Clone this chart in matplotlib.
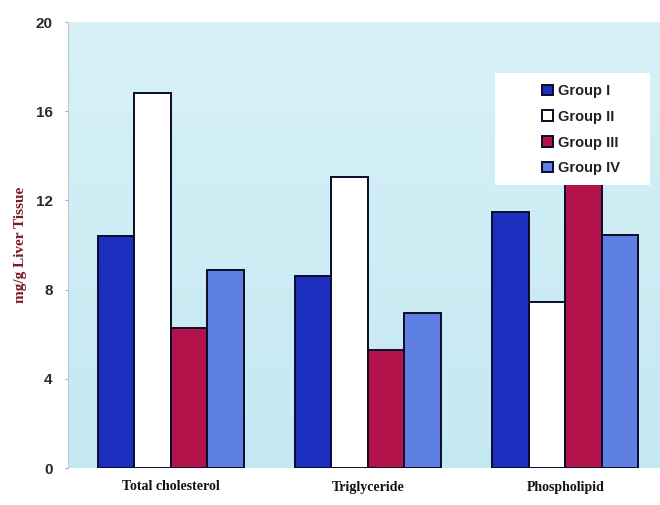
import matplotlib
matplotlib.use("Agg")
import matplotlib.pyplot as plt
import numpy as np
from matplotlib.patches import Rectangle
from matplotlib.colors import LinearSegmentedColormap

categories = ["Total cholesterol", "Triglyceride", "Phospholipid"]
groups = ["Group I", "Group II", "Group III", "Group IV"]
group1 = [10.4, 8.6, 11.5]
group2 = [16.8, 13.05, 7.45]
group3 = [6.3, 5.3, 13.5]
group4 = [8.9, 6.95, 10.45]
colors = ["#1c2fbf", "#ffffff", "#b3134b", "#5d80e2"]
yticks = [0, 4, 8, 12, 16, 20]

fig = plt.figure(figsize=(6.6, 5.05), dpi=100)
fig.patch.set_facecolor("white")
ax = fig.add_axes([68/660, 1-468/505, 1-68/660, (468-22)/505])

# light blue gradient background
grad = np.linspace(0, 1, 256).reshape(-1, 1)
cmap = LinearSegmentedColormap.from_list("bg", ["#c4e8f2", "#d8f1f7"])
ax.imshow(grad, aspect="auto", cmap=cmap, extent=[-0.52, 2.48, 0, 20],
          origin="lower", zorder=0)

x = np.arange(len(categories))
w = 0.185
series = [group1, group2, group3, group4]
handles = []
for i, (vals, c, g) in enumerate(zip(series, colors, groups)):
    b = ax.bar(x + (i - 1.5) * w, vals, w, color=c, edgecolor="#0a0a2a",
               linewidth=1.4, label=g, zorder=2)
    handles.append(b)

ax.set_xlim(-0.52, 2.48)
ax.set_ylim(0, 20)
ax.set_yticks(yticks)
ax.set_yticklabels([str(t) for t in yticks], fontsize=11, fontweight="bold",
                   color="#2a2a2a", family="Liberation Sans")
ax.set_xticks(x)
ax.set_xticklabels(categories, fontsize=10, fontweight="bold",
                   family="Liberation Serif", color="#111111")
ax.tick_params(axis="x", length=0, pad=9)
ax.tick_params(axis="y", length=2, width=0.8, color="#9ab0b8", pad=9)
for s in ["top", "right", "bottom"]:
    ax.spines[s].set_visible(False)
ax.spines["left"].set_color("#b8ccd2")
ax.spines["left"].set_linewidth(0.8)

ax.set_ylabel("mg/g Liver Tissue", fontsize=11, fontweight="bold",
              family="Liberation Serif", color="#7a1a2a", labelpad=6)

# white legend panel
ax.add_patch(Rectangle(((495-68)/592, (468-185)/446), (650-495)/592, (185-73)/446,
                       transform=ax.transAxes, facecolor="white",
                       edgecolor="none", zorder=4))
leg = ax.legend(handles=handles, loc="upper left",
                bbox_to_anchor=((532-68)/592, (468-74)/446),
                frameon=False, handlelength=0.75,
                handleheight=0.75, handletextpad=0.3, labelspacing=0.8,
                borderpad=0.2, prop={"family": "Liberation Sans", "weight": "bold", "size": 10.5})
leg.set_zorder(5)
for t in leg.get_texts():
    t.set_color("#222222")

fig.savefig("out.png", dpi=100, facecolor="white")
